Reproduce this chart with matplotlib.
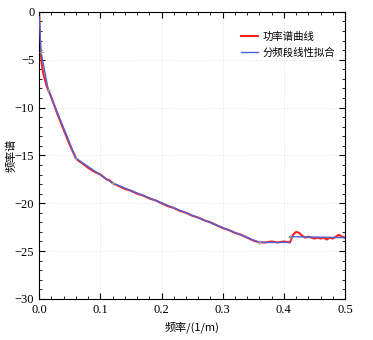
import matplotlib
matplotlib.use("Agg")
import matplotlib.pyplot as plt
from matplotlib.ticker import MultipleLocator

# power spectrum curve
freq = [0, 0.001, 0.002, 0.004, 0.006, 0.008, 0.010, 0.012, 0.015, 0.018,
        0.022, 0.026, 0.030, 0.035, 0.040, 0.045, 0.050, 0.055, 0.060, 0.065,
        0.070, 0.080, 0.090, 0.100, 0.110, 0.115, 0.120, 0.130, 0.140, 0.150,
        0.160, 0.170, 0.180, 0.190, 0.200, 0.210, 0.220, 0.230, 0.240, 0.250,
        0.260, 0.270, 0.280, 0.290, 0.300, 0.310, 0.320, 0.330, 0.340, 0.350,
        0.360, 0.370, 0.380, 0.390, 0.400, 0.410, 0.415, 0.420, 0.425, 0.430,
        0.435, 0.440, 0.445, 0.450, 0.455, 0.460, 0.465, 0.470, 0.475, 0.480,
        0.485, 0.490, 0.495, 0.500]
power = [0.0, -2.2, -3.8, -5.3, -6.2, -6.8, -7.2, -7.7, -8.2, -8.6,
         -9.3, -10.0, -10.7, -11.5, -12.3, -13.1, -13.9, -14.6, -15.3, -15.6,
         -15.8, -16.3, -16.7, -17.0, -17.5, -17.6, -17.9, -18.2, -18.5, -18.7,
         -19.0, -19.2, -19.5, -19.7, -20.0, -20.3, -20.5, -20.8, -21.0, -21.3,
         -21.5, -21.8, -22.0, -22.3, -22.6, -22.8, -23.1, -23.3, -23.6, -23.9,
         -24.1, -24.1, -24.0, -24.1, -24.0, -24.1, -23.3, -23.0, -23.1, -23.4,
         -23.6, -23.5, -23.6, -23.7, -23.6, -23.7, -23.6, -23.8, -23.6, -23.7,
         -23.5, -23.3, -23.5, -23.6]

# piecewise linear fit (nan separates disjoint pieces)
fit_x = [0.0, 0.003, 0.015, 0.060, 0.120, 0.360, 0.410, 0.410, 0.500]
fit_y = [-0.5, -4.2, -8.2, -15.3, -17.9, -24.1, -24.1, float("nan"), -23.6]
fit_y2 = [-23.5, -23.6]
knot_x = [0.003, 0.015, 0.060, 0.120, 0.360, 0.410]
knot_y = [-4.2, -8.2, -15.3, -17.9, -24.1, -23.5]

serif = ['Liberation Serif', 'DejaVu Serif']
cjk = ['Noto Sans CJK SC', 'Liberation Serif']
plt.rcParams['font.family'] = serif
fig = plt.figure(figsize=(3.73, 3.40), dpi=100)
ax = fig.add_axes([0.105, 0.121, 0.82, 0.844])

ax.plot(freq, power, color="#ff2020", lw=1.5, label="功率谱曲线", zorder=2)
ax.plot(fit_x, fit_y, color="#4a64d8", lw=1.0, label="分频段线性拟合", zorder=3)
ax.plot(fit_x[-2:], fit_y2, color="#4a64d8", lw=1.0, zorder=3)
ax.plot(knot_x, knot_y, ls="none", marker="+", ms=3, mew=0.8, color="#999999", zorder=4)

ax.set_xlim(0, 0.5)
ax.set_ylim(-30, 0)
ax.xaxis.set_major_locator(MultipleLocator(0.1))
ax.xaxis.set_minor_locator(MultipleLocator(0.02))
ax.yaxis.set_major_locator(MultipleLocator(5))
ax.yaxis.set_minor_locator(MultipleLocator(1))
ax.tick_params(which="both", direction="in", top=True, right=True, labelsize=9)
ax.tick_params(which="major", length=4)
ax.tick_params(which="minor", length=2)
ax.grid(True, which="major", ls=":", color="#e0e0e0", lw=0.7)
fig.canvas.draw()
for lbl in ax.get_xticklabels() + ax.get_yticklabels():
    lbl.set_family(serif)

ax.set_xlabel("频率/(1/m)", fontsize=8, family=cjk, labelpad=4)
ax.set_ylabel("频率谱", fontsize=8, family=cjk, labelpad=-1)
ax.legend(loc="upper right", frameon=False, prop={'family': cjk, 'size': 7.5},
          handlelength=1.6, handletextpad=0.5, labelspacing=0.6,
          bbox_to_anchor=(1.0, 0.965))

fig.savefig("out.png", dpi=100)
